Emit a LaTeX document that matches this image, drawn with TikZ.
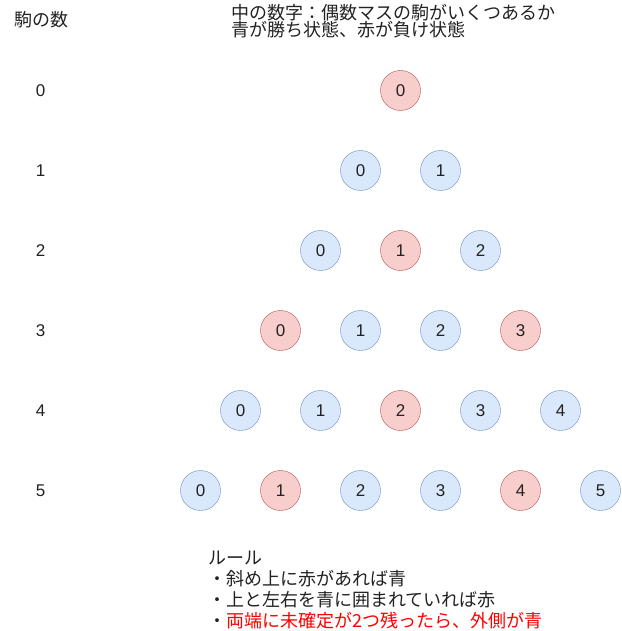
\documentclass[tikz,border=0pt]{standalone}
\usepackage{fontspec}
\setmainfont{Liberation Sans}
\newfontfamily\jp{Noto Sans CJK JP}
\definecolor{winfill}{HTML}{DAE8FC}
\definecolor{windraw}{HTML}{6C8EBF}
\definecolor{losefill}{HTML}{F8CECC}
\definecolor{losedraw}{HTML}{B85450}
\definecolor{textgray}{HTML}{222222}
\def\txtsize{\fontsize{17}{17}\selectfont}
\def\jpsize{\fontsize{18}{18}\selectfont}

\begin{document}
\begin{tikzpicture}[x=1pt,y=-1pt,
    every node/.style={text=textgray},
    piece/.style={circle,minimum size=40pt,inner sep=0pt,font=\txtsize},
    win/.style={piece,fill=winfill,draw=windraw},
    lose/.style={piece,fill=losefill,draw=losedraw},
    label/.style={font=\txtsize,inner sep=0pt}]
   \useasboundingbox (0,0) rectangle (621,631);
   % headings
   \node[label,anchor=west,font=\jpsize] (count) at (14,20) {\jp 駒の数};
   \node[label,anchor=west,align=left,font=\fontsize{18}{17.5}\selectfont] (legend) at (231,21)
      {\jp 中の数字：偶数マスの駒がいくつあるか\\\jp 青が勝ち状態、赤が負け状態};
   % rows of states
   \foreach \n/\cols in {0/{lose},
                         1/{win,win},
                         2/{win,lose,win},
                         3/{lose,win,win,lose},
                         4/{win,win,lose,win,win},
                         5/{win,lose,win,win,lose,win}} {
      \node[label] (n\n) at (40.5,90.5+80*\n) {\n};
      \foreach \c [count=\i from 0] in \cols
         \node[\c] (s\n\i) at (400.5-40*\n+80*\i,90.5+80*\n) {\i};
   }
   % rules
   \node[label,anchor=west,align=left,font=\fontsize{18}{20.7}\selectfont] (rules) at (208,590)
      {\jp ルール\\
       \jp ・斜め上に赤があれば青\\
       \jp ・上と左右を青に囲まれていれば赤\\
       \jp ・\textcolor{red}{両端に未確定が2つ残ったら、外側が青}};
\end{tikzpicture}
\end{document}
